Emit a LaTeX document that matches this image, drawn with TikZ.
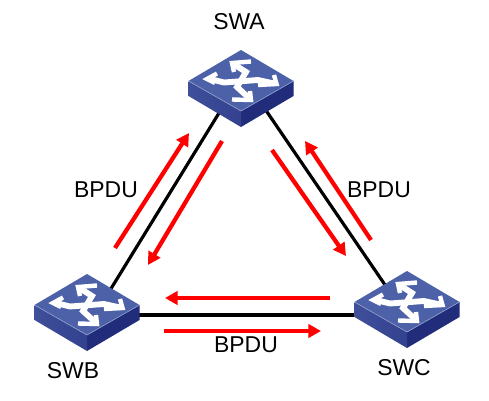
\documentclass[tikz,border=0pt]{standalone}
\usepackage{fontspec}
\setmainfont{Liberation Sans}
\usetikzlibrary{arrows.meta}
\definecolor{swtop}{HTML}{4C61A7}
\definecolor{swleftA}{HTML}{3F4F9A}
\definecolor{swleftB}{HTML}{33418E}
\definecolor{swrightc}{HTML}{212C7B}
\definecolor{swedge}{HTML}{8F9CCB}
\tikzset{
  x=0.75pt,y=-0.75pt,
  link/.style={line width=2.4pt,black},
  flow/.style={line width=3.2pt,red,-{Triangle[length=9.5pt,width=10pt]},shorten >=0pt},
  lbl/.style={font=\fontsize{17.2pt}{19pt}\selectfont,text=black,inner sep=0pt},
  swanchor/.style={minimum width=79pt,minimum height=58pt,inner sep=0pt},
  icon/.style={white,line width=3.3pt,miter limit=10,line join=miter},
  shaft/.style={white,line width=4.4pt,line join=miter,miter limit=10},
  swicon/.pic={
    \fill[swrightc] (0,61) -- (52.5,31) -- (52.5,46) -- (0,77) -- cycle;
    \shade[left color=swleftA,right color=swleftB] (0,61) -- (-52.5,31) -- (-52.5,46) -- (0,77) -- cycle;
    \fill[swtop] (0,0) -- (52.5,31) -- (0,61) -- (-52.5,31) -- cycle;
    \draw[swedge,line width=0.5pt] (-52.5,31) -- (0,61) -- (52.5,31);
    \draw[icon] (10,11.5) -- (-9,13) -- (-7,22);
    \draw[shaft] (-6,15) -- (5,22) -- (-4,37) -- (8,48);
    \draw[icon] (-9,49.5) -- (10,50) -- (9,41);
    \draw[icon] (-24,23.5) -- (-34,29) -- (-26,33);
    \draw[shaft] (-31,29) -- (-17,32.5) -- (17,30) -- (33,33.5);
    \draw[icon] (33,25) -- (35.5,34) -- (17,35);
  }
}
\begin{document}
\begin{tikzpicture}
\useasboundingbox (0,0) rectangle (489,400);
% link ends (hidden beneath the switches)
\coordinate (ABa) at (235,87);
\coordinate (ABb) at (104,300);
\coordinate (ACa) at (250,87);
\coordinate (ACc) at (396,301);
\coordinate (BCb) at (120,315);
\coordinate (BCc) at (380,315);
\node[swanchor] (SWAn) at (241,88) {};
\node[swanchor] (SWBn) at (87,311) {};
\node[swanchor] (SWCn) at (407,308) {};
\draw[link] (ABa) -- (ABb);
\draw[link] (ACa) -- (ACc);
\draw[link] (BCb) -- (BCc);
\pic at (241,50) {swicon};
\pic at (87,274) {swicon};
\pic at (407,271) {swicon};
% flow arrows
\coordinate (f1s) at (115,248); \coordinate (f1e) at (189,133);
\coordinate (f2s) at (222,141); \coordinate (f2e) at (148,265);
\coordinate (f3s) at (272,150); \coordinate (f3e) at (346,256);
\coordinate (f4s) at (371,240); \coordinate (f4e) at (305,141);
\coordinate (f5s) at (330,298); \coordinate (f5e) at (165,298);
\coordinate (f6s) at (164,331); \coordinate (f6e) at (321,331);
\draw[flow] (f1s) -- (f1e);
\draw[flow] (f2s) -- (f2e);
\draw[flow] (f3s) -- (f3e);
\draw[flow] (f4s) -- (f4e);
\draw[flow] (f5s) -- (f5e);
\draw[flow] (f6s) -- (f6e);
% labels
\node[lbl] (SWAl) at (239,22) {SWA};
\node[lbl] (SWBl) at (73,371) {SWB};
\node[lbl] (SWCl) at (404,368) {SWC};
\node[lbl] (b1) at (106,190) {BPDU};
\node[lbl] (b2) at (379,190) {BPDU};
\node[lbl] (b3) at (246,345) {BPDU};
\end{tikzpicture}
\end{document}
